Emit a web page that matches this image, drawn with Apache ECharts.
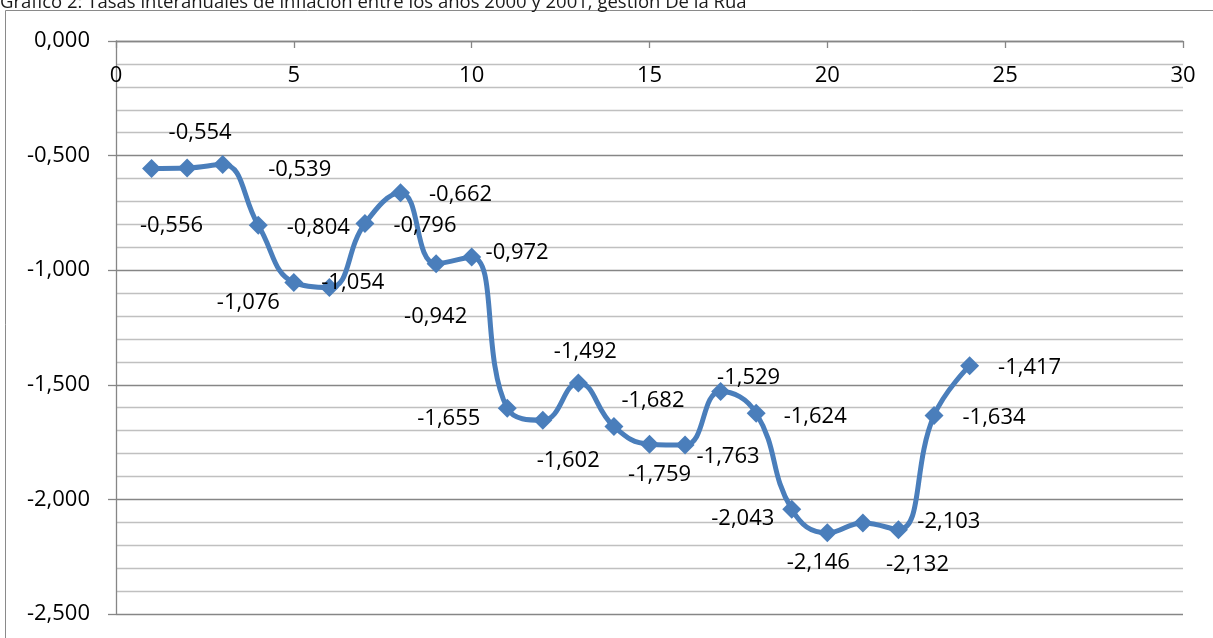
<!DOCTYPE html>
<html>
<head>
<meta charset="utf-8">
<script src="https://cdn.jsdelivr.net/npm/echarts@6/dist/echarts.min.js"></script>
<style>
html,body{margin:0;padding:0;background:#fff;}
#chart{width:1213px;height:638px;}
</style>
</head>
<body>
<div id="chart"></div>
<script>
// ---- data ----
const titleText = "Gráfico 2: Tasas interanuales de inflación entre los años 2000 y 2001, gestión De la Rúa";
const periods = [1,2,3,4,5,6,7,8,9,10,11,12,13,14,15,16,17,18,19,20,21,22,23,24];
const inflation = [-0.556,-0.554,-0.539,-0.804,-1.054,-1.076,-0.796,-0.662,-0.972,-0.942,-1.602,-1.655,-1.492,-1.682,-1.759,-1.763,-1.529,-1.624,-2.043,-2.146,-2.103,-2.132,-1.634,-1.417];
// label placement (style only): offset of label centre from its point, in px
const labelOffsets = [[20,57],[13,-35],[77,5],[60,2],[59,0],[-81,15],[60,2],[60,2],[81,-11],[-36,60],[61,53],[-94,-2],[7,-31],[39,-26],[10,31],[43,12],[28,-14],[59,4],[-49,9],[-9,30],[86,-1],[19,35],[60,2],[60,2]];

const fmt = v => v.toFixed(3).replace('.', ',');
const FONT = "'Open Sans', sans-serif";

const chart = echarts.init(document.getElementById('chart'), null, {renderer:'canvas'});
const seriesData = periods.map((p,i) => [p, inflation[i]]);

chart.setOption({
  animation:false,
  backgroundColor:'#fff',
  graphic:[
    {type:'rect', shape:{x:5.5,y:10.5,width:1400,height:800}, style:{fill:'none',stroke:'#8a8a8a',lineWidth:1}, silent:true},
    {type:'text', left:0, top:-7, style:{text:titleText, font:"18.5px "+FONT, fill:'#1a1a1a'}, silent:true}
  ],
  grid:{left:116, right:30, top:41, bottom:24, containLabel:false},
  xAxis:{
    type:'value', position:'top', min:0, max:30, interval:5,
    axisLine:{onZero:false, lineStyle:{color:'#868686', width:1.3}},
    axisTick:{inside:true, length:7, lineStyle:{color:'#868686', width:1.3}},
    axisLabel:{inside:true, margin:24, color:'#000', fontFamily:FONT, fontSize:22, verticalAlign:'top'},
    splitLine:{show:false}
  },
  yAxis:{
    type:'value', min:-2.5, max:0, interval:0.5,
    axisLine:{show:true, lineStyle:{color:'#868686', width:1.3}},
    axisTick:{show:true, length:8, lineStyle:{color:'#868686', width:1.3}},
    axisLabel:{margin:26, color:'#000', fontFamily:FONT, fontSize:22, formatter:fmt},
    splitLine:{show:true, lineStyle:{color:'#868686', width:1.3}},
    minorTick:{show:false, splitNumber:5},
    minorSplitLine:{show:true, lineStyle:{color:'#c0c0c0', width:1.3}}
  },
  series:[{
    type:'line',
    data:seriesData,
    smooth:0.45,
    symbol:'diamond',
    symbolSize:[19,19],
    lineStyle:{color:'#4A7EBB', width:5},
    itemStyle:{color:'#4A7EBB'},
    label:{
      show:true, position:'inside', align:'center', verticalAlign:'middle',
      color:'#000', fontFamily:FONT, fontSize:22,
      formatter:p => fmt(p.value[1])
    },
    labelLayout:function(p){
      const o = labelOffsets[p.dataIndex];
      return {dx:o[0], dy:o[1], hideOverlap:false};
    },
    z:5
  }]
});
</script>
</body>
</html>
